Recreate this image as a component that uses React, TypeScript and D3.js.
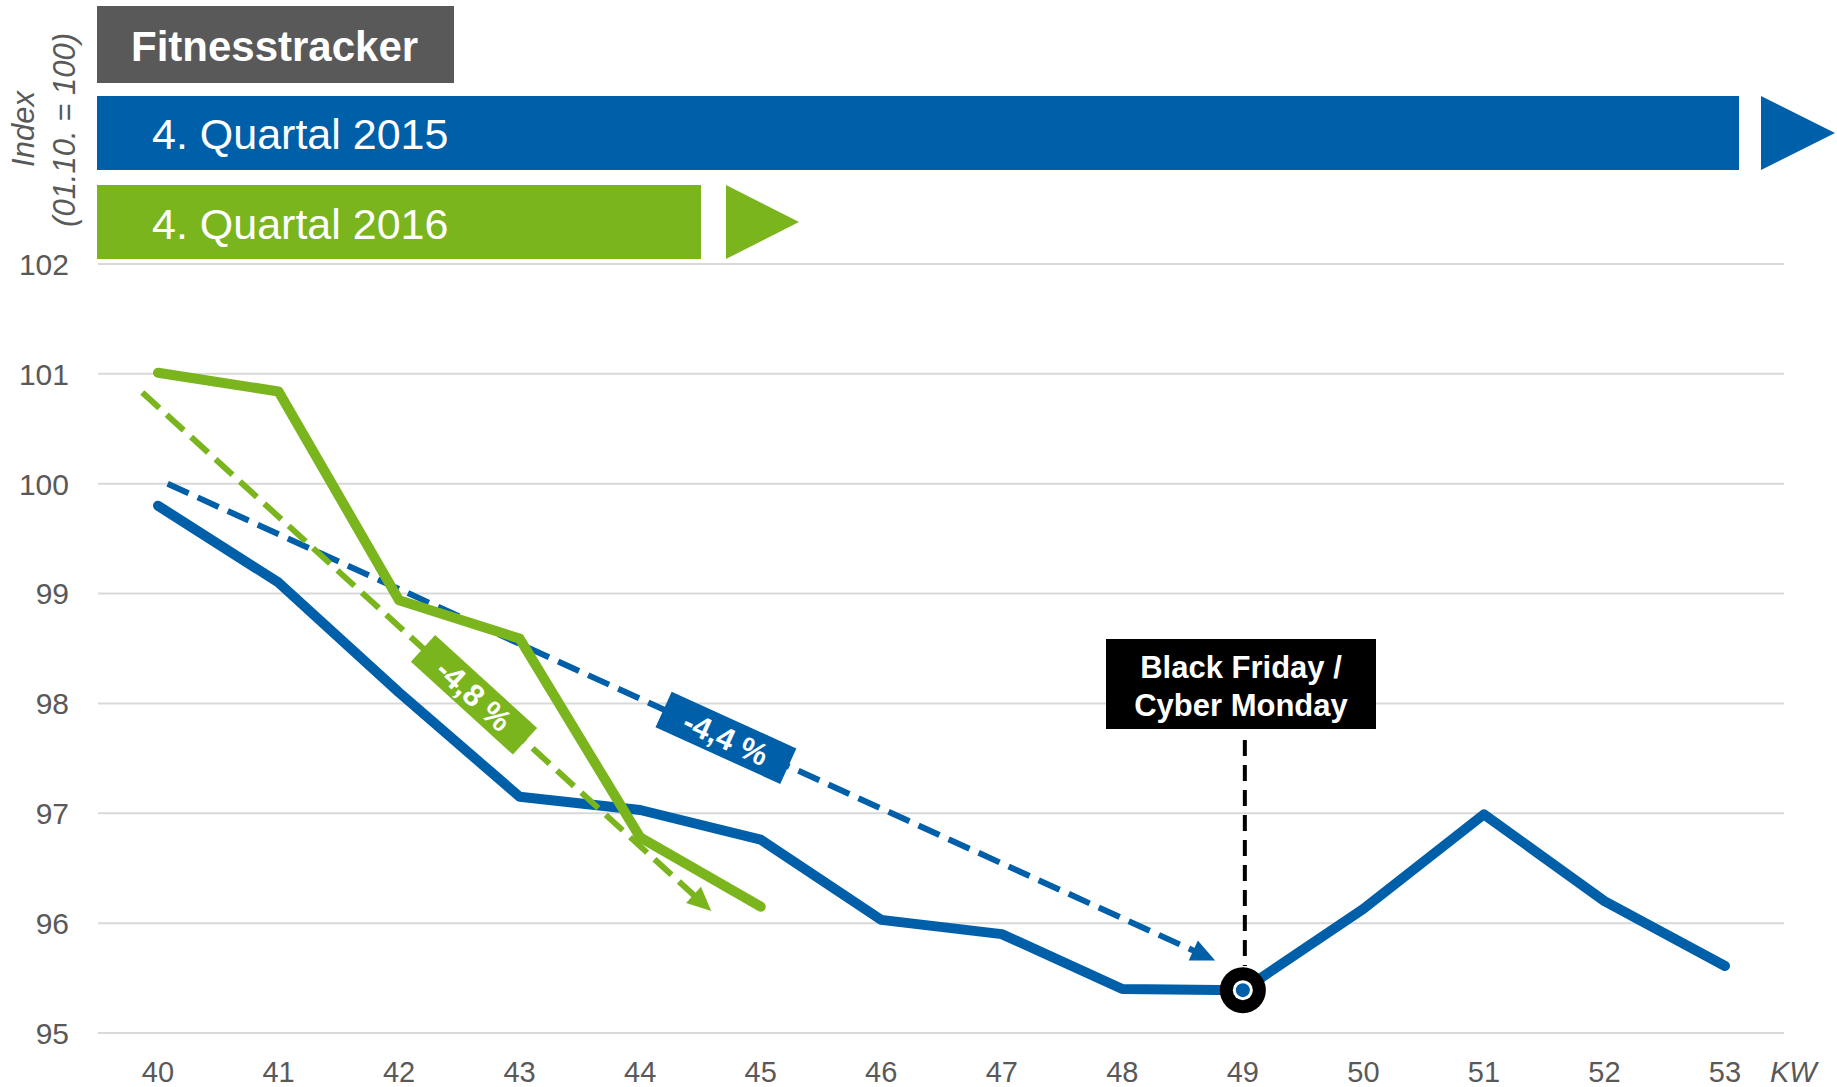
import React from "react";
import * as d3 from "d3";

// ---- data ----
const weeks = [40, 41, 42, 43, 44, 45, 46, 47, 48, 49, 50, 51, 52, 53];
const index2015 = [99.8, 99.1, 98.1, 97.15, 97.03, 96.76, 96.03, 95.9, 95.4, 95.39, 96.13, 96.99, 96.2, 95.61];
const index2016 = [101.01, 100.84, 98.94, 98.59, 96.78, 96.15];
const yTicks = [95, 96, 97, 98, 99, 100, 101, 102];
const trend2015 = [{ kw: 40.08, v: 100.0 }, { kw: 48.77, v: 95.66 }];
const trend2016 = [{ kw: 39.87, v: 100.83 }, { kw: 44.59, v: 96.11 }];
const trendLabels = ["-4,4 %", "-4,8 %"];
const eventWeek = 49;
const eventLabel = ["Black Friday /", "Cyber Monday"];

const BLUE = "#005fa9";
const GREEN = "#7ab51e";
const GREY = "#595959";
const FONT = "Liberation Sans, Arial, Helvetica, sans-serif";

const W = 1837;
const H = 1087;

export default function App() {
  const x = d3.scaleLinear().domain([40, 53]).range([158, 1725]);
  const y = d3.scaleLinear().domain([95, 102]).range([1033, 264]);

  const line = d3
    .line<number>()
    .x((d, i) => x(weeks[i]))
    .y((d) => y(d));

  // dashed trend with arrow head, plus rotated label box
  const trend = (pts, color, label, t, boxW, boxH, key) => {
    const x0 = x(pts[0].kw), y0 = y(pts[0].v);
    const x1 = x(pts[1].kw), y1 = y(pts[1].v);
    const len = Math.hypot(x1 - x0, y1 - y0);
    const ux = (x1 - x0) / len, uy = (y1 - y0) / len;
    const headL = 24, headW = 11;
    const bx = x1 - ux * headL, by = y1 - uy * headL;
    const head = [
      [x1, y1],
      [bx - uy * headW, by + ux * headW],
      [bx + uy * headW, by - ux * headW],
    ];
    const angle = (Math.atan2(y1 - y0, x1 - x0) * 180) / Math.PI;
    const cx = x0 + (x1 - x0) * t, cy = y0 + (y1 - y0) * t;
    return (
      <g key={key}>
        <line x1={x0} y1={y0} x2={bx + ux * 2} y2={by + uy * 2} stroke={color} strokeWidth={6} strokeDasharray="23 10" />
        <polygon points={head.map((p) => p.join(",")).join(" ")} fill={color} />
        <g transform={`translate(${cx},${cy}) rotate(${angle})`}>
          <rect x={-boxW / 2} y={-boxH / 2} width={boxW} height={boxH} fill={color} />
          <text x={0} y={0} dy="0.36em" textAnchor="middle" fill="#fff" fontWeight="bold" fontSize={31}>
            {label}
          </text>
        </g>
      </g>
    );
  };

  const ex = x(eventWeek);
  const ey = y(index2015[weeks.indexOf(eventWeek)]);

  return (
    <svg width={W} height={H} style={{ position: "absolute", left: 0, top: 0, background: "#fff", fontFamily: FONT }}>
      {/* header bars */}
      <rect x={97} y={6} width={357} height={77} fill={GREY} />
      <text x={131} y={61} fill="#fff" fontWeight="bold" fontSize={42}>Fitnesstracker</text>
      <rect x={97} y={96} width={1642} height={74} fill={BLUE} />
      <polygon points="1761,96 1835,133 1761,170" fill={BLUE} />
      <text x={152} y={149} fill="#fff" fontSize={43}>4. Quartal 2015</text>
      <rect x={97} y={185} width={604} height={74} fill={GREEN} />
      <polygon points="726,185 799,222 726,259" fill={GREEN} />
      <text x={152} y={239} fill="#fff" fontSize={43}>4. Quartal 2016</text>

      {/* y axis title */}
      <text transform="translate(34,129) rotate(-90)" textAnchor="middle" fill={GREY} fontStyle="italic" fontSize={31}>Index</text>
      <text transform="translate(75,130) rotate(-90)" textAnchor="middle" fill={GREY} fontStyle="italic" fontSize={31}>(01.10. = 100)</text>

      {/* grid + y ticks */}
      {yTicks.map((t) => (
        <g key={t}>
          <line x1={98} x2={1784} y1={y(t)} y2={y(t)} stroke="#d9d9d9" strokeWidth={2} />
          <text x={69} y={y(t)} dy="0.36em" textAnchor="end" fill={GREY} fontSize={30}>{t}</text>
        </g>
      ))}

      {/* x ticks */}
      {weeks.map((w) => (
        <text key={w} x={x(w)} y={1072} dy="0.36em" textAnchor="middle" fill={GREY} fontSize={29}>{w}</text>
      ))}
      <text x={1770} y={1072} dy="0.36em" fill={GREY} fontStyle="italic" fontSize={29}>KW</text>

      {/* series */}
      <path d={line(index2015)} fill="none" stroke={BLUE} strokeWidth={10} strokeLinecap="round" strokeLinejoin="round" />
      {trend(trend2015, BLUE, trendLabels[0], 0.533, 137, 39, "t15")}
      <path d={line(index2016)} fill="none" stroke={GREEN} strokeWidth={10} strokeLinecap="round" strokeLinejoin="round" />
      {trend(trend2016, GREEN, trendLabels[1], 0.583, 138, 36, "t16")}

      {/* event annotation */}
      <line x1={ex + 2} x2={ex + 2} y1={740} y2={966} stroke="#000" strokeWidth={4} strokeDasharray="16 9" />
      <rect x={1106} y={639} width={270} height={90} fill="#000" />
      {eventLabel.map((s, i) => (
        <text key={s} x={1241} y={667 + i * 38} dy="0.36em" textAnchor="middle" fill="#fff" fontWeight="bold" fontSize={31}>{s}</text>
      ))}
      <circle cx={ex} cy={ey} r={23} fill="#000" />
      <circle cx={ex} cy={ey} r={10} fill="#fff" />
      <circle cx={ex} cy={ey} r={7} fill={BLUE} />
    </svg>
  );
}
